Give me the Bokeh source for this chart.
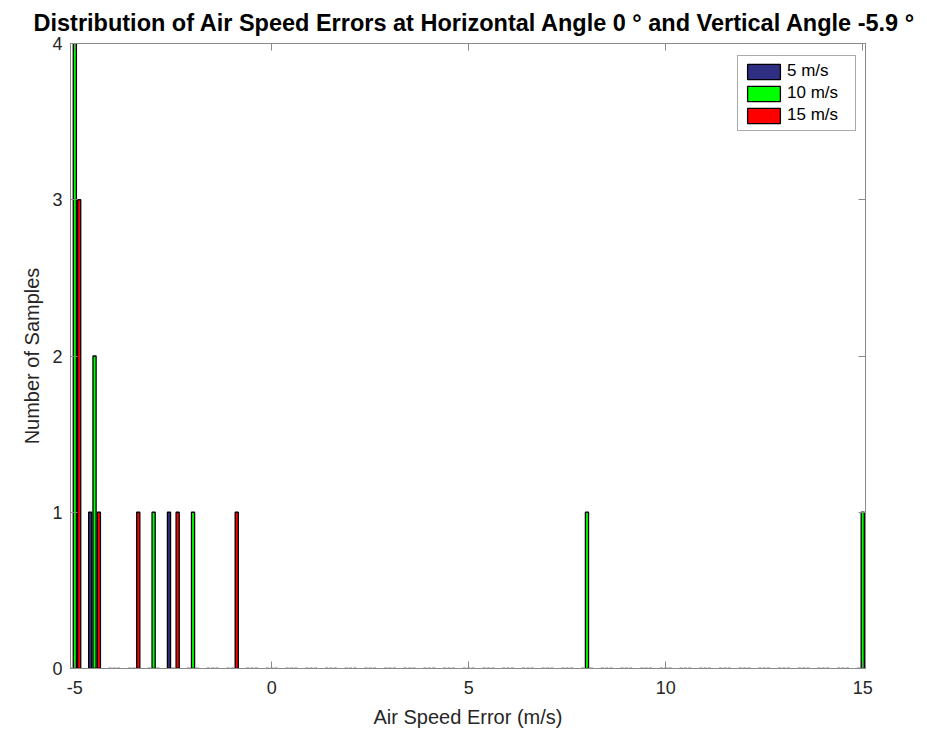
from bokeh.plotting import figure
from bokeh.models import Range1d, LinearAxis, Legend, LegendItem, FixedTicker, ColumnDataSource
from bokeh.embed import file_html
from bokeh.resources import INLINE

# bin centres (m/s)
bins = [-5 + 0.5 * i for i in range(41)]

# counts per bin (all other bins are 0)
counts_5 = {-4.5: 1, -2.5: 1}
counts_10 = {-5.0: 4, -4.5: 2, -3.0: 1, -2.0: 1, 8.0: 1, 15.0: 1}
counts_15 = {-5.0: 3, -4.5: 1, -3.5: 1, -2.5: 1, -1.0: 1}

series_names = ["5 m/s", "10 m/s", "15 m/s"]
series_counts = [counts_5, counts_10, counts_15]
series_colors = ["#2e2e82", "#00ff00", "#ff0000"]
series_offsets = [-0.11, 0.0, 0.11]

x_ticks = [-5, 0, 5, 10, 15]
y_ticks = [0, 1, 2, 3, 4]

FONT = "Liberation Sans"
AX_COL = "#8a8a8a"

p = figure(width=927, height=738,
           x_range=Range1d(-5.11, 15.07), y_range=Range1d(0, 4),
           output_backend="svg", toolbar_location=None,
           min_border_left=70, min_border_right=62,
           min_border_top=42, min_border_bottom=70,
           x_axis_label="Air Speed Error (m/s)", y_axis_label="Number of Samples")

p.title.text = "Distribution of Air Speed Errors at Horizontal Angle 0 \u00b0 and Vertical Angle -5.9 \u00b0"
p.title.align = "left"
p.title.offset = -37
p.title.text_font = FONT
p.title.text_font_size = "23.5px"
p.title.text_font_style = "bold"
p.title.text_color = "black"
p.title.standoff = 15

p.xgrid.visible = False
p.ygrid.visible = False
p.outline_line_color = AX_COL
p.background_fill_color = "white"
p.border_fill_color = "white"

renderers = []
for name, cnts, col, off in zip(series_names, series_counts, series_colors, series_offsets):
    xs = [b + off for b in bins]
    tops = [cnts.get(b, 0) for b in bins]
    src = ColumnDataSource(dict(x=xs, top=tops))
    r = p.vbar(x="x", top="top", bottom=0, width=0.08, source=src,
               fill_color=col, line_color="black", line_width=1.3)
    renderers.append((name, r))

for ax in (p.xaxis[0], p.yaxis[0]):
    ax.axis_line_color = AX_COL
    ax.major_tick_line_color = AX_COL
    ax.major_tick_in = 7
    ax.major_tick_out = 0
    ax.minor_tick_line_color = None
    ax.major_label_text_font = FONT
    ax.major_label_text_font_size = "18px"
    ax.major_label_text_color = "#262626"
    ax.axis_label_text_font = FONT
    ax.axis_label_text_font_size = "20px"
    ax.axis_label_text_font_style = "normal"
    ax.axis_label_text_color = "#262626"

p.xaxis[0].ticker = FixedTicker(ticks=x_ticks)
p.yaxis[0].ticker = FixedTicker(ticks=y_ticks)
p.xaxis[0].major_label_overrides = {t: str(t) for t in x_ticks}
p.xaxis[0].major_label_standoff = 12
p.yaxis[0].major_label_standoff = 8
p.yaxis[0].axis_label_standoff = 6
p.xaxis[0].axis_label_standoff = 9

top_ax = LinearAxis(ticker=FixedTicker(ticks=x_ticks))
right_ax = LinearAxis(ticker=FixedTicker(ticks=y_ticks))
for ax in (top_ax, right_ax):
    ax.axis_line_color = AX_COL
    ax.major_tick_line_color = AX_COL
    ax.major_tick_in = 7
    ax.major_tick_out = 0
    ax.minor_tick_line_color = None
    ax.major_label_text_color = None
    ax.major_label_text_font_size = "1px"
    ax.major_label_standoff = 0
p.add_layout(top_ax, "above")
p.add_layout(right_ax, "right")

legend = Legend(items=[LegendItem(label=n, renderers=[r]) for n, r in renderers],
                location=(667, 537))
legend.label_text_font = FONT
legend.label_text_font_size = "17px"
legend.label_text_color = "black"
legend.glyph_width = 41
legend.glyph_height = 19
legend.label_standoff = 3
legend.label_height = 19
legend.label_width = 63
legend.spacing = 2
legend.padding = 5
legend.margin = 0
legend.border_line_color = "#555555"
legend.border_line_width = 1
legend.background_fill_alpha = 1
p.add_layout(legend)

open("out.html", "w").write(file_html(p, INLINE))
